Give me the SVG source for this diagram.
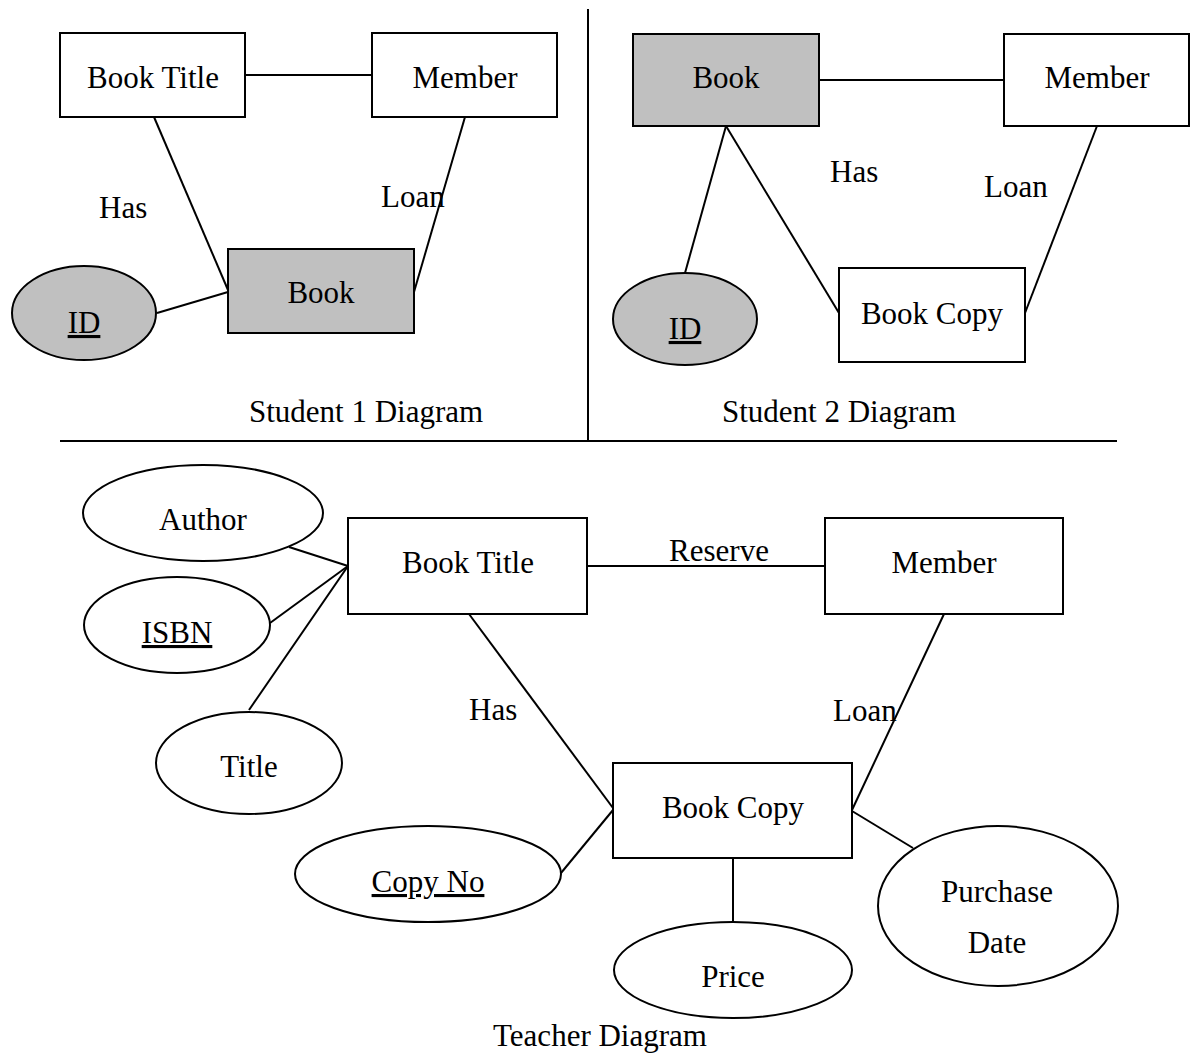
<svg xmlns="http://www.w3.org/2000/svg" width="1190" height="1054" viewBox="0 0 1190 1054">
<style>
text{font-family:"Liberation Serif","DejaVu Serif",serif;font-size:31px;fill:#000;text-anchor:middle}
.lbl{text-anchor:start}
.n{stroke:#000;stroke-width:2;fill:#fff}
.grey{fill:#c0c0c0}
line{stroke:#000;stroke-width:2}
.u{text-decoration:underline}
</style>
<rect width="1190" height="1054" fill="#fff"/>
<g id="dividers">
<line x1="588" y1="9" x2="588" y2="441"/>
<line x1="60" y1="441" x2="1117" y2="441"/>
</g>
<g id="connectors">
<line x1="245" y1="75" x2="372" y2="75"/>
<line x1="154" y1="117" x2="228" y2="290"/>
<line x1="465" y1="117" x2="414" y2="292"/>
<line x1="157" y1="313" x2="228" y2="292"/>
<line x1="819" y1="80" x2="1004" y2="80"/>
<line x1="726" y1="126" x2="685" y2="273"/>
<line x1="726" y1="126" x2="839" y2="313"/>
<line x1="1097" y1="126" x2="1025" y2="313"/>
<line x1="289" y1="547" x2="348" y2="566"/>
<line x1="270" y1="623" x2="348" y2="566"/>
<line x1="249" y1="710" x2="348" y2="566"/>
<line x1="587" y1="566" x2="825" y2="566"/>
<line x1="469" y1="614" x2="613" y2="808"/>
<line x1="944" y1="614" x2="852" y2="810"/>
<line x1="561" y1="873" x2="613" y2="810"/>
<line x1="733" y1="858" x2="733" y2="922"/>
<line x1="852" y1="811" x2="913" y2="848"/>
</g>
<g id="s1-booktitle"><rect class="n" x="60" y="33" width="185" height="84"/><text x="153" y="88">Book Title</text></g>
<g id="s1-member"><rect class="n" x="372" y="33" width="185" height="84"/><text x="465" y="88">Member</text></g>
<g id="s1-book"><rect class="n grey" x="228" y="249" width="186" height="84"/><text x="321" y="303">Book</text></g>
<g id="s1-id"><ellipse class="n grey" cx="84" cy="313" rx="72" ry="47"/><text x="84" y="333" class="u">ID</text></g>
<g id="s1-labels"><text class="lbl" x="99" y="218">Has</text><text class="lbl" x="381" y="207">Loan</text><text x="366" y="422">Student 1 Diagram</text></g>
<g id="s2-book"><rect class="n grey" x="633" y="34" width="186" height="92"/><text x="726" y="88">Book</text></g>
<g id="s2-member"><rect class="n" x="1004" y="34" width="185" height="92"/><text x="1097" y="88">Member</text></g>
<g id="s2-bookcopy"><rect class="n" x="839" y="268" width="186" height="94"/><text x="932" y="324">Book Copy</text></g>
<g id="s2-id"><ellipse class="n grey" cx="685" cy="319" rx="72" ry="46"/><text x="685" y="339" class="u">ID</text></g>
<g id="s2-labels"><text class="lbl" x="830" y="182">Has</text><text class="lbl" x="984" y="197">Loan</text><text x="839" y="422">Student 2 Diagram</text></g>
<g id="t-booktitle"><rect class="n" x="348" y="518" width="239" height="96"/><text x="468" y="573">Book Title</text></g>
<g id="t-member"><rect class="n" x="825" y="518" width="238" height="96"/><text x="944" y="573">Member</text></g>
<g id="t-bookcopy"><rect class="n" x="613" y="763" width="239" height="95"/><text x="733" y="818">Book Copy</text></g>
<g id="t-author"><ellipse class="n" cx="203" cy="513" rx="120" ry="48"/><text x="203" y="530">Author</text></g>
<g id="t-isbn"><ellipse class="n" cx="177" cy="625" rx="93" ry="48"/><text x="177" y="643" class="u">ISBN</text></g>
<g id="t-title"><ellipse class="n" cx="249" cy="763" rx="93" ry="51"/><text x="249" y="777">Title</text></g>
<g id="t-copyno"><ellipse class="n" cx="428" cy="874" rx="133" ry="48"/><text x="428" y="892" class="u">Copy No</text></g>
<g id="t-price"><ellipse class="n" cx="733" cy="970" rx="119" ry="48"/><text x="733" y="987">Price</text></g>
<g id="t-purchasedate"><ellipse class="n" cx="998" cy="906" rx="120" ry="80"/><text x="997" y="902">Purchase</text><text x="997" y="953">Date</text></g>
<g id="t-labels"><text x="719" y="561">Reserve</text><text class="lbl" x="469" y="720">Has</text><text class="lbl" x="833" y="721">Loan</text><text x="600" y="1046">Teacher Diagram</text></g>
</svg>
